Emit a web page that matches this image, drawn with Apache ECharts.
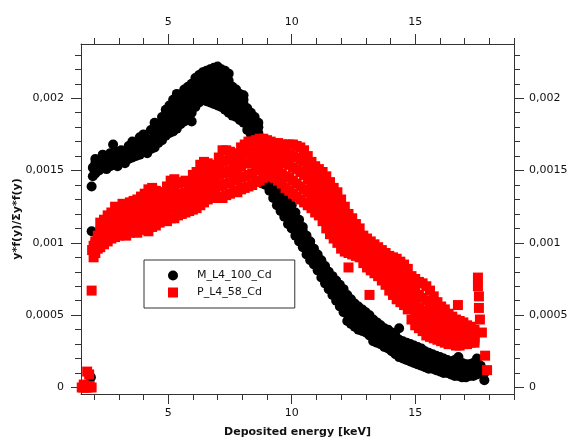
<!DOCTYPE html>
<html>
<head>
<meta charset="utf-8">
<script src="https://cdn.jsdelivr.net/npm/echarts@6/dist/echarts.min.js"></script>
<style>
html,body{margin:0;padding:0;background:#fff;}
#chart{width:571px;height:439px;}
</style>
</head>
<body>
<div id="chart"></div>
<script>
// ---- data ----
const energyTicks = [5, 10, 15];
const energyMinorTicks = [2, 3, 4, 6, 7, 8, 9, 11, 12, 13, 14, 16, 17, 18, 19];
const doseTicks = [0, 0.0005, 0.001, 0.0015, 0.002];
const doseMinorTicks = [0.0001, 0.0002, 0.0003, 0.0004, 0.0006, 0.0007, 0.0008, 0.0009,
  0.0011, 0.0012, 0.0013, 0.0014, 0.0016, 0.0017, 0.0018, 0.0019, 0.0021, 0.0022, 0.0023];
const seriesNames = ['M_L4_100_Cd', 'P_L4_58_Cd'];

// each row: [energy keV, y values ...]
const mColumns = [
  [1.87, 7e-5], [1.90, 108e-5, 139e-5], [1.95, 146e-5, 152e-5], [2.05, 148e-5, 152e-5, 155e-5, 158e-5],
  [2.20, 150e-5, 153e-5, 156e-5], [2.35, 152e-5, 155e-5, 158e-5, 161e-5], [2.50, 151e-5, 154e-5, 157e-5, 160e-5],
  [2.65, 153e-5, 156e-5, 159e-5, 162e-5], [2.77, 168e-5], [2.80, 154e-5, 158e-5, 161e-5],
  [2.95, 153e-5, 157e-5, 160e-5, 163e-5], [3.10, 156e-5, 159e-5, 161e-5, 164e-5],
  [3.25, 155e-5, 158e-5, 160e-5, 163e-5], [3.40, 158e-5, 161e-5, 163e-5, 167e-5],
  [3.55, 159e-5, 162e-5, 165e-5, 170e-5], [3.70, 160e-5, 164e-5, 168e-5], [3.85, 161e-5, 164e-5, 167e-5, 173e-5],
  [4.00, 163e-5, 166e-5, 169e-5, 175e-5], [4.15, 162e-5, 165e-5, 168e-5, 172e-5],
  [4.30, 165e-5, 168e-5, 171e-5, 178e-5], [4.45, 166e-5, 170e-5, 174e-5, 178e-5, 183e-5],
  [4.60, 169e-5, 172e-5, 176e-5, 181e-5], [4.75, 171e-5, 175e-5, 179e-5, 183e-5, 187e-5],
  [4.90, 174e-5, 178e-5, 182e-5, 187e-5, 192e-5], [5.05, 176e-5, 180e-5, 184e-5, 190e-5, 195e-5],
  [5.20, 177e-5, 182e-5, 188e-5, 194e-5, 199e-5], [5.35, 179e-5, 185e-5, 191e-5, 197e-5, 203e-5],
  [5.50, 182e-5, 188e-5, 194e-5, 201e-5], [5.65, 184e-5, 190e-5, 196e-5, 201e-5, 206e-5],
  [5.80, 186e-5, 192e-5, 198e-5, 203e-5, 208e-5], [5.95, 184e-5, 190e-5, 196e-5, 202e-5, 206e-5, 210e-5],
  [6.10, 194e-5, 199e-5, 204e-5, 209e-5, 214e-5], [6.25, 197e-5, 202e-5, 207e-5, 212e-5, 216e-5],
  [6.40, 199e-5, 204e-5, 209e-5, 214e-5, 218e-5], [6.55, 198e-5, 202e-5, 206e-5, 210e-5, 213e-5, 219e-5],
  [6.70, 197e-5, 201e-5, 205e-5, 209e-5, 212e-5, 216e-5, 220e-5],
  [6.85, 196e-5, 200e-5, 203e-5, 207e-5, 210e-5, 214e-5, 217e-5, 221e-5],
  [7.00, 195e-5, 199e-5, 204e-5, 208e-5, 211e-5, 215e-5, 218e-5, 222e-5],
  [7.15, 194e-5, 198e-5, 201e-5, 205e-5, 209e-5, 212e-5, 215e-5, 220e-5],
  [7.30, 192e-5, 196e-5, 200e-5, 204e-5, 207e-5, 211e-5, 214e-5, 219e-5],
  [7.45, 190e-5, 194e-5, 198e-5, 202e-5, 205e-5, 209e-5, 212e-5, 217e-5],
  [7.60, 188e-5, 192e-5, 195e-5, 198e-5, 201e-5, 205e-5, 208e-5],
  [7.75, 187e-5, 190e-5, 193e-5, 196e-5, 199e-5, 203e-5, 206e-5],
  [7.90, 185e-5, 188e-5, 191e-5, 194e-5, 197e-5, 200e-5, 203e-5],
  [8.05, 183e-5, 187e-5, 190e-5, 193e-5, 196e-5, 199e-5, 202e-5],
  [8.20, 178e-5, 182e-5, 186e-5, 190e-5, 193e-5], [8.35, 175e-5, 179e-5, 183e-5, 187e-5, 190e-5],
  [8.50, 172e-5, 176e-5, 180e-5, 184e-5, 187e-5], [8.65, 168e-5, 172e-5, 176e-5, 180e-5, 183e-5],
  [8.80, 141e-5, 150e-5, 155e-5, 160e-5, 165e-5, 170e-5], [8.95, 140e-5, 144e-5, 148e-5, 153e-5, 158e-5],
  [9.10, 136e-5, 140e-5, 144e-5, 148e-5, 152e-5], [9.25, 131e-5, 135e-5, 139e-5, 143e-5, 147e-5],
  [9.40, 126e-5, 130e-5, 134e-5, 138e-5, 142e-5], [9.55, 122e-5, 125e-5, 129e-5, 133e-5, 136e-5],
  [9.70, 118e-5, 121e-5, 124e-5, 128e-5, 131e-5], [9.85, 113e-5, 117e-5, 120e-5, 124e-5, 128e-5],
  [10.00, 110e-5, 114e-5, 117e-5, 122e-5, 126e-5], [10.15, 105e-5, 109e-5, 112e-5, 117e-5, 121e-5],
  [10.30, 101e-5, 105e-5, 108e-5, 112e-5, 116e-5], [10.45, 97e-5, 100e-5, 104e-5, 108e-5, 111e-5],
  [10.60, 92e-5, 96e-5, 99e-5, 102e-5, 105e-5], [10.75, 88e-5, 92e-5, 95e-5, 98e-5, 101e-5],
  [10.90, 85e-5, 88e-5, 91e-5, 94e-5, 96e-5], [11.05, 81e-5, 84e-5, 87e-5, 90e-5, 92e-5],
  [11.20, 76e-5, 80e-5, 83e-5, 86e-5, 88e-5], [11.35, 72e-5, 76e-5, 79e-5, 82e-5, 84e-5],
  [11.50, 68e-5, 72e-5, 75e-5, 78e-5, 80e-5], [11.65, 64e-5, 68e-5, 71e-5, 74e-5, 77e-5],
  [11.80, 60e-5, 64e-5, 67e-5, 71e-5, 74e-5], [11.95, 56e-5, 60e-5, 63e-5, 67e-5, 71e-5],
  [12.10, 52e-5, 56e-5, 59e-5, 64e-5, 68e-5], [12.25, 46e-5, 51e-5, 55e-5, 60e-5, 64e-5],
  [12.40, 44e-5, 48e-5, 52e-5, 57e-5, 61e-5], [12.55, 42e-5, 46e-5, 50e-5, 54e-5, 58e-5],
  [12.70, 40e-5, 44e-5, 47e-5, 52e-5, 56e-5], [12.85, 39e-5, 42e-5, 46e-5, 50e-5, 54e-5],
  [13.00, 38e-5, 41e-5, 44e-5, 48e-5, 52e-5], [13.15, 36e-5, 39e-5, 42e-5, 46e-5, 50e-5],
  [13.30, 32e-5, 36e-5, 39e-5, 43e-5, 47e-5], [13.45, 31e-5, 34e-5, 37e-5, 41e-5, 45e-5],
  [13.60, 30e-5, 33e-5, 36e-5, 40e-5, 43e-5], [13.75, 28e-5, 31e-5, 34e-5, 38e-5, 41e-5],
  [13.90, 27e-5, 30e-5, 33e-5, 37e-5, 40e-5], [14.05, 25e-5, 28e-5, 31e-5, 35e-5, 38e-5],
  [14.20, 23e-5, 26e-5, 29e-5, 33e-5, 36e-5], [14.35, 21e-5, 24e-5, 27e-5, 30e-5, 33e-5, 41e-5],
  [14.50, 20e-5, 23e-5, 26e-5, 29e-5, 32e-5], [14.65, 19e-5, 22e-5, 25e-5, 28e-5, 31e-5],
  [14.80, 18e-5, 21e-5, 24e-5, 27e-5, 30e-5], [14.95, 17e-5, 20e-5, 23e-5, 26e-5, 29e-5],
  [15.10, 16e-5, 19e-5, 22e-5, 25e-5, 28e-5], [15.25, 15e-5, 18e-5, 21e-5, 24e-5, 27e-5],
  [15.40, 14e-5, 17e-5, 20e-5, 23e-5, 25e-5], [15.55, 13e-5, 16e-5, 19e-5, 22e-5, 24e-5],
  [15.70, 13e-5, 15e-5, 18e-5, 21e-5, 23e-5], [15.85, 12e-5, 14e-5, 17e-5, 20e-5, 22e-5],
  [16.00, 11e-5, 13e-5, 16e-5, 19e-5, 21e-5], [16.15, 10e-5, 12e-5, 15e-5, 18e-5, 20e-5],
  [16.30, 10e-5, 12e-5, 14e-5, 17e-5, 19e-5], [16.45, 9e-5, 11e-5, 14e-5, 16e-5, 18e-5],
  [16.60, 8e-5, 10e-5, 13e-5, 16e-5, 19e-5], [16.75, 8e-5, 10e-5, 13e-5, 16e-5, 21e-5],
  [16.90, 7e-5, 9e-5, 12e-5, 15e-5, 17e-5], [17.05, 7e-5, 9e-5, 11e-5, 14e-5, 16e-5],
  [17.20, 8e-5, 10e-5, 12e-5, 14e-5, 16e-5], [17.35, 8e-5, 10e-5, 13e-5, 15e-5, 17e-5],
  [17.50, 9e-5, 11e-5, 14e-5, 17e-5, 20e-5], [17.65, 10e-5, 12e-5, 15e-5], [17.80, 5e-5, 10e-5]
];

const pColumns = [
  [1.50, 0], [1.58, 0, 2e-5], [1.66, 0], [1.72, 11e-5], [1.74, 0], [1.80, 9e-5], [1.82, 1e-5],
  [1.90, 0, 67e-5], [1.92, 95e-5], [1.98, 90e-5, 98e-5], [2.05, 93e-5, 99e-5, 101e-5],
  [2.15, 96e-5, 101e-5, 105e-5], [2.25, 97e-5, 103e-5, 108e-5, 114e-5], [2.40, 99e-5, 104e-5, 110e-5, 116e-5],
  [2.55, 101e-5, 106e-5, 112e-5, 119e-5], [2.70, 103e-5, 108e-5, 113e-5, 121e-5],
  [2.85, 104e-5, 110e-5, 115e-5, 120e-5, 125e-5], [3.00, 105e-5, 111e-5, 116e-5, 124e-5],
  [3.15, 106e-5, 112e-5, 117e-5, 122e-5, 127e-5], [3.30, 105e-5, 111e-5, 118e-5, 126e-5],
  [3.45, 107e-5, 113e-5, 119e-5, 124e-5, 128e-5], [3.60, 108e-5, 114e-5, 120e-5, 125e-5, 129e-5],
  [3.75, 107e-5, 114e-5, 121e-5, 126e-5, 130e-5], [3.90, 109e-5, 115e-5, 122e-5, 127e-5, 132e-5],
  [4.05, 110e-5, 116e-5, 123e-5, 129e-5, 134e-5], [4.20, 108e-5, 117e-5, 124e-5, 131e-5, 137e-5],
  [4.35, 111e-5, 118e-5, 125e-5, 132e-5, 138e-5], [4.50, 112e-5, 119e-5, 126e-5, 131e-5, 136e-5],
  [4.65, 114e-5, 121e-5, 128e-5, 135e-5], [4.80, 116e-5, 122e-5, 129e-5, 135e-5],
  [4.95, 115e-5, 122e-5, 129e-5, 134e-5, 139e-5], [5.10, 117e-5, 124e-5, 131e-5, 137e-5, 143e-5],
  [5.25, 117e-5, 125e-5, 132e-5, 138e-5, 144e-5], [5.40, 119e-5, 126e-5, 133e-5, 141e-5],
  [5.55, 120e-5, 127e-5, 134e-5, 142e-5], [5.70, 121e-5, 128e-5, 135e-5, 143e-5],
  [5.85, 122e-5, 129e-5, 136e-5, 142e-5], [6.00, 123e-5, 130e-5, 137e-5, 142e-5, 147e-5],
  [6.15, 124e-5, 131e-5, 138e-5, 144e-5, 149e-5], [6.30, 126e-5, 133e-5, 140e-5, 147e-5, 154e-5],
  [6.45, 128e-5, 135e-5, 141e-5, 148e-5, 156e-5], [6.60, 130e-5, 136e-5, 143e-5, 149e-5, 155e-5],
  [6.75, 131e-5, 137e-5, 144e-5, 149e-5, 153e-5], [6.90, 131e-5, 138e-5, 145e-5, 150e-5, 154e-5],
  [7.05, 132e-5, 139e-5, 147e-5, 153e-5, 159e-5], [7.20, 131e-5, 140e-5, 148e-5, 156e-5, 164e-5],
  [7.35, 133e-5, 141e-5, 149e-5, 157e-5, 164e-5], [7.50, 134e-5, 142e-5, 150e-5, 157e-5, 163e-5],
  [7.65, 136e-5, 144e-5, 151e-5, 157e-5, 162e-5], [7.80, 135e-5, 143e-5, 150e-5, 156e-5, 161e-5],
  [7.95, 137e-5, 145e-5, 153e-5, 160e-5, 166e-5], [8.10, 138e-5, 146e-5, 155e-5, 162e-5, 168e-5],
  [8.25, 139e-5, 147e-5, 155e-5, 163e-5, 170e-5], [8.40, 140e-5, 148e-5, 156e-5, 163e-5, 170e-5],
  [8.55, 142e-5, 150e-5, 157e-5, 164e-5, 171e-5], [8.70, 143e-5, 151e-5, 158e-5, 165e-5, 172e-5],
  [8.85, 145e-5, 152e-5, 159e-5, 166e-5, 172e-5], [9.00, 146e-5, 153e-5, 160e-5, 166e-5, 171e-5],
  [9.15, 147e-5, 153e-5, 160e-5, 165e-5, 170e-5], [9.30, 145e-5, 151e-5, 158e-5, 164e-5, 169e-5],
  [9.45, 143e-5, 150e-5, 157e-5, 163e-5, 169e-5], [9.60, 141e-5, 148e-5, 156e-5, 162e-5, 168e-5],
  [9.75, 138e-5, 146e-5, 155e-5, 162e-5, 168e-5], [9.90, 136e-5, 145e-5, 154e-5, 161e-5, 168e-5],
  [10.05, 134e-5, 143e-5, 152e-5, 160e-5, 168e-5], [10.20, 132e-5, 141e-5, 151e-5, 159e-5, 167e-5],
  [10.35, 130e-5, 139e-5, 149e-5, 158e-5, 166e-5], [10.50, 128e-5, 137e-5, 147e-5, 156e-5, 164e-5],
  [10.65, 126e-5, 135e-5, 144e-5, 152e-5, 160e-5], [10.80, 124e-5, 132e-5, 141e-5, 149e-5, 156e-5],
  [10.95, 121e-5, 129e-5, 137e-5, 145e-5, 153e-5], [11.10, 119e-5, 126e-5, 134e-5, 143e-5, 151e-5],
  [11.25, 115e-5, 123e-5, 131e-5, 140e-5, 149e-5], [11.40, 110e-5, 119e-5, 127e-5, 137e-5, 146e-5],
  [11.55, 106e-5, 115e-5, 123e-5, 132e-5, 142e-5], [11.70, 103e-5, 111e-5, 120e-5, 129e-5, 138e-5],
  [11.85, 100e-5, 108e-5, 116e-5, 125e-5, 135e-5], [12.00, 96e-5, 104e-5, 112e-5, 121e-5, 130e-5],
  [12.15, 94e-5, 101e-5, 109e-5, 117e-5, 125e-5], [12.30, 83e-5, 93e-5, 99e-5, 106e-5, 113e-5, 120e-5],
  [12.45, 92e-5, 98e-5, 104e-5, 110e-5, 117e-5], [12.60, 91e-5, 96e-5, 101e-5, 107e-5, 113e-5],
  [12.75, 90e-5, 94e-5, 99e-5, 105e-5, 110e-5], [12.90, 86e-5, 91e-5, 96e-5, 101e-5, 105e-5],
  [13.05, 83e-5, 88e-5, 93e-5, 98e-5, 103e-5], [13.15, 64e-5], [13.20, 81e-5, 85e-5, 90e-5, 96e-5, 101e-5],
  [13.35, 79e-5, 83e-5, 88e-5, 94e-5, 99e-5], [13.50, 77e-5, 81e-5, 86e-5, 92e-5, 97e-5],
  [13.65, 74e-5, 79e-5, 84e-5, 90e-5, 95e-5], [13.80, 71e-5, 76e-5, 81e-5, 87e-5, 93e-5],
  [13.95, 67e-5, 73e-5, 78e-5, 85e-5, 91e-5], [14.10, 64e-5, 70e-5, 76e-5, 83e-5, 90e-5],
  [14.25, 61e-5, 67e-5, 74e-5, 81e-5, 89e-5], [14.40, 59e-5, 65e-5, 72e-5, 80e-5, 87e-5],
  [14.55, 57e-5, 63e-5, 70e-5, 78e-5, 85e-5], [14.70, 54e-5, 60e-5, 67e-5, 75e-5, 82e-5],
  [14.85, 47e-5, 55e-5, 62e-5, 70e-5, 77e-5], [15.00, 43e-5, 50e-5, 58e-5, 67e-5, 75e-5],
  [15.15, 41e-5, 48e-5, 55e-5, 64e-5, 73e-5], [15.30, 39e-5, 46e-5, 53e-5, 62e-5, 72e-5],
  [15.45, 36e-5, 43e-5, 51e-5, 60e-5, 70e-5], [15.60, 35e-5, 41e-5, 48e-5, 57e-5, 67e-5],
  [15.75, 34e-5, 40e-5, 46e-5, 54e-5, 63e-5], [15.90, 33e-5, 38e-5, 44e-5, 51e-5, 59e-5],
  [16.05, 32e-5, 37e-5, 43e-5, 49e-5, 56e-5], [16.20, 31e-5, 36e-5, 41e-5, 47e-5, 54e-5],
  [16.35, 30e-5, 35e-5, 40e-5, 45e-5, 51e-5], [16.50, 30e-5, 34e-5, 39e-5, 44e-5, 49e-5],
  [16.65, 29e-5, 33e-5, 38e-5, 42e-5, 47e-5], [16.73, 57e-5], [16.80, 29e-5, 33e-5, 37e-5, 41e-5, 46e-5],
  [16.95, 30e-5, 33e-5, 37e-5, 41e-5, 45e-5], [17.10, 30e-5, 33e-5, 36e-5, 40e-5, 43e-5],
  [17.25, 31e-5, 34e-5, 36e-5, 39e-5, 42e-5], [17.40, 31e-5, 33e-5, 35e-5, 38e-5, 40e-5],
  [17.54, 70e-5, 76e-5], [17.58, 55e-5, 63e-5], [17.62, 47e-5], [17.70, 38e-5], [17.83, 22e-5], [17.91, 12e-5]
];

function toPoints(cols) {
  const pts = [];
  cols.forEach(c => { for (let i = 1; i < c.length; i++) pts.push([c[0], c[i]]); });
  return pts;
}

const FONT = 'DejaVu Sans';
const AXC = '#333';
const xMin = 1.47, xMax = 19, yMin = -0.000045, yMax = 0.002375;
const fmtY = v => String(v).replace('.', ',');

function xAx(pos, major) {
  return {
    type: 'value', position: pos, min: xMin, max: xMax, gridIndex: 0,
    axisLine: { show: major, onZero: false, lineStyle: { color: AXC, width: 1 } },
    axisTick: { show: true, length: major ? 10 : 6, inside: false,
      customValues: major ? energyTicks : energyMinorTicks, lineStyle: { color: AXC, width: 1 } },
    axisLabel: { show: major, customValues: energyTicks, margin: pos === 'top' ? 16 : 14,
      fontFamily: FONT, fontSize: 11, color: '#111' },
    splitLine: { show: false }, minorTick: { show: false }
  };
}
function yAx(pos, major) {
  return {
    type: 'value', position: pos, min: yMin, max: yMax, gridIndex: 0,
    axisLine: { show: major, onZero: false, lineStyle: { color: AXC, width: 1 } },
    axisTick: { show: true, length: major ? 10 : 6, inside: false,
      customValues: major ? doseTicks : doseMinorTicks, lineStyle: { color: AXC, width: 1 } },
    axisLabel: { show: major, customValues: doseTicks, margin: pos === 'left' ? 17 : 15,
      formatter: fmtY, fontFamily: FONT, fontSize: 11, color: '#111' },
    splitLine: { show: false }, minorTick: { show: false }
  };
}

const xb = xAx('bottom', true);
xb.name = 'Deposited energy [keV]';
xb.nameLocation = 'middle';
xb.nameGap = 33;
xb.nameMoveOverlap = false;
xb.nameTextStyle = { fontFamily: FONT, fontSize: 11, fontWeight: 'bold', color: '#111' };
const yl = yAx('left', true);
yl.name = 'y*f(y)/Σy*f(y)';
yl.nameLocation = 'middle';
yl.nameGap = 58;
yl.nameMoveOverlap = false;
yl.nameTextStyle = { fontFamily: FONT, fontSize: 11, fontWeight: 'bold', color: '#111' };

const chart = echarts.init(document.getElementById('chart'), null, { renderer: 'canvas' });
chart.setOption({
  animation: false,
  backgroundColor: '#fff',
  grid: { left: 81, right: 57, top: 44, bottom: 45, containLabel: false, outerBoundsMode: 'none' },
  xAxis: [xb, xAx('bottom', false), xAx('top', true), xAx('top', false)],
  yAxis: [yl, yAx('left', false), yAx('right', true), yAx('right', false)],
  legend: {
    orient: 'vertical', left: 144, top: 260,
    padding: [9, 23, 9, 24], itemGap: 4, itemWidth: 10, itemHeight: 10,
    borderColor: '#333', borderWidth: 1, backgroundColor: '#fff',
    textStyle: { fontFamily: FONT, fontSize: 11, color: '#111', lineHeight: 13, padding: [0, 0, 0, 14] },
    data: [{ name: seriesNames[0], icon: 'circle' }, { name: seriesNames[1], icon: 'rect' }]
  },
  series: [
    { name: seriesNames[0], type: 'scatter', xAxisIndex: 0, yAxisIndex: 0, symbol: 'circle', symbolSize: 10,
      itemStyle: { color: '#000', opacity: 1 }, data: toPoints(mColumns), silent: true },
    { name: seriesNames[1], type: 'scatter', xAxisIndex: 0, yAxisIndex: 0, symbol: 'rect', symbolSize: 10,
      itemStyle: { color: '#ff0000', opacity: 1 }, data: toPoints(pColumns), silent: true }
  ]
});
</script>
</body>
</html>
